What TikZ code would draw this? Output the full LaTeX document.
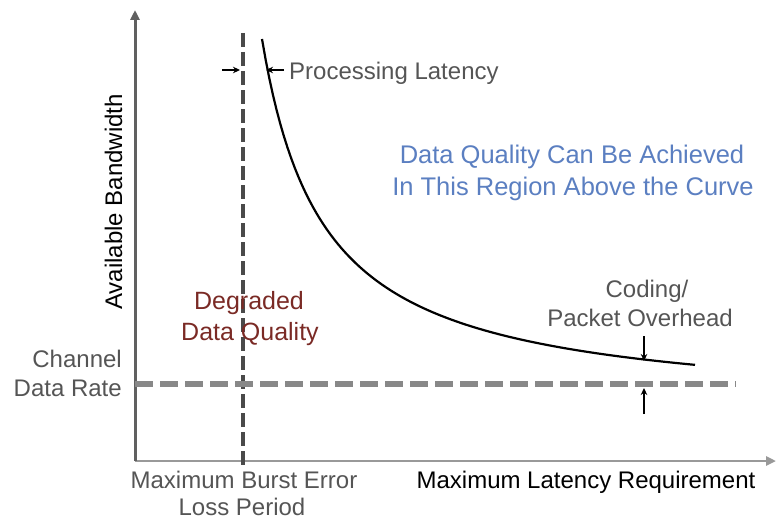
\documentclass[tikz,border=0pt]{standalone}
\usepackage{fontspec}
\setmainfont{Liberation Sans}
\usetikzlibrary{arrows.meta}
\definecolor{axisdark}{HTML}{606060}
\definecolor{axislight}{HTML}{999999}
\definecolor{dashdark}{HTML}{4A4A4A}
\definecolor{dashlight}{HTML}{888888}
\definecolor{txtgray}{HTML}{555555}
\definecolor{txtblue}{HTML}{5B7FC1}
\definecolor{txtred}{HTML}{7A2A25}
\begin{document}
\begin{tikzpicture}[x=1pt,y=-1pt,
  lbl/.style={font=\fontsize{24}{29}\selectfont, inner sep=0pt, anchor=base},
  graylbl/.style={lbl, text=txtgray},
  bluelbl/.style={lbl, text=txtblue, font=\fontsize{25.5}{30}\selectfont},
  redlbl/.style={lbl, text=txtred, font=\fontsize{25}{30}\selectfont},
  axisline/.style={line width=3pt, -{Triangle[length=10pt,width=9pt]}},
  marker/.style={line width=1.3pt, black, -{Stealth[length=7pt,width=6.5pt]}}]
\useasboundingbox (0,0) rectangle (776,519);

% axes
\coordinate (origin) at (135,461);
\coordinate (ytip) at (135,10);
\coordinate (xtip) at (776,461);
\draw[axisline, axislight, line width=2.6pt] (origin) -- (xtip);
\draw[axisline, axisdark] (origin) -- (ytip);

% dashed lines
\coordinate (vtop) at (243,33);
\coordinate (vbot) at (243,467);
\draw[dashdark, line width=3.2pt, dash pattern=on 14pt off 5pt] (vtop) -- (vbot);
\coordinate (hleft) at (135,384);
\coordinate (hright) at (736,384);
\draw[dashlight, line width=5.5pt, dash pattern=on 18pt off 7pt] (hleft) -- (hright);

% curve
\draw[black, line width=2.2pt] plot[domain=262:695, samples=120] (\x,{411.5-230.94/((\x-200)/100)});

% processing latency markers
\coordinate (pl1) at (222,70);
\coordinate (pl2) at (240,70);
\coordinate (pr1) at (284,70);
\coordinate (pr2) at (266,70);
\draw[marker] (pl1) -- (pl2);
\draw[marker] (pr1) -- (pr2);

% overhead markers
\coordinate (od1) at (644,336);
\coordinate (od2) at (644,361);
\coordinate (ou1) at (644,414);
\coordinate (ou2) at (644,388);
\draw[marker] (od1) -- (od2);
\draw[marker] (ou1) -- (ou2);

% labels
\node[graylbl, anchor=base west] (proc) at (289,79) {Processing Latency};
\node[bluelbl] (blue1) at (572,163) {Data Quality Can Be Achieved};
\node[bluelbl] (blue2) at (573,195) {In This Region Above the Curve};
\node[redlbl] (red1) at (249,309) {Degraded};
\node[redlbl] (red2) at (250,340) {Data Quality};
\node[graylbl] (cod1) at (647,297) {Coding/};
\node[graylbl] (cod2) at (640,326) {Packet Overhead};
\node[graylbl, anchor=base east] (chan1) at (122,367) {Channel};
\node[graylbl, anchor=base east] (chan2) at (122,396) {Data Rate};
\node[graylbl] (burst1) at (244,488) {Maximum Burst Error};
\node[graylbl] (burst2) at (242,515) {Loss Period};
\node[lbl] (xlab) at (586,488) {Maximum Latency Requirement};
\node[lbl, rotate=90] (ylab) at (122,202) {Available Bandwidth};
\end{tikzpicture}
\end{document}
